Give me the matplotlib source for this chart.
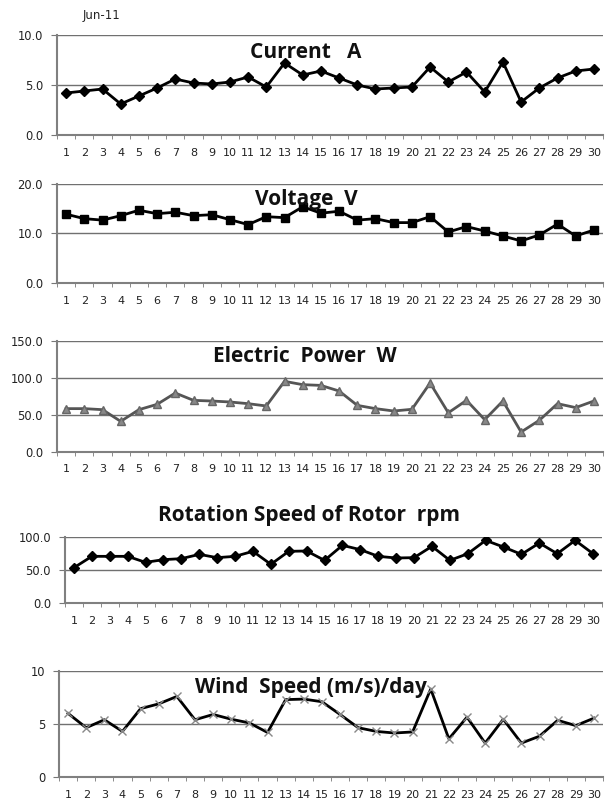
import numpy as np
import matplotlib.pyplot as plt
from matplotlib.ticker import MultipleLocator, FixedLocator

# daten (juni 2011, tageswerte)
tage = list(range(1, 31))

strom = [4.2, 4.4, 4.6, 3.1, 3.9, 4.7, 5.6, 5.2, 5.1, 5.3, 5.8, 4.8, 7.2, 6.0,
         6.4, 5.7, 5.0, 4.6, 4.7, 4.8, 6.8, 5.3, 6.3, 4.3, 7.3, 3.3, 4.7, 5.7, 6.4, 6.6]

spannung = [13.9, 13.0, 12.7, 13.6, 14.7, 14.0, 14.3, 13.6, 13.8, 12.8, 11.8, 13.4, 13.2, 15.4,
            14.1, 14.5, 12.7, 13.0, 12.2, 12.2, 13.4, 10.3, 11.4, 10.5, 9.5, 8.5, 9.7, 11.9, 9.5, 10.7]

leistung = [58.6, 58.6, 57.2, 41.4, 57.2, 64.4, 79.7, 69.8, 68.9, 67.6, 65.3, 62.2, 95.5, 91.0,
            90.0, 82.4, 63.0, 58.6, 55.4, 57.7, 93.2, 53.0, 69.8, 43.7, 68.9, 27.0, 42.8, 65.3, 60.0, 68.9]

drehzahl = [53.5, 70.7, 70.7, 70.7, 61.6, 65.7, 67.2, 73.7, 68.7, 70.7, 78.3, 58.6, 78.3, 78.8,
            64.6, 87.4, 80.8, 70.7, 68.2, 68.7, 85.9, 64.6, 74.7, 94.9, 84.8, 73.7, 90.9, 74.7, 94.9, 74.7]

wind = [6.0, 4.65, 5.4, 4.3, 6.45, 6.9, 7.6, 5.4, 5.9, 5.45, 5.1, 4.2, 7.3, 7.35,
        7.1, 5.9, 4.65, 4.3, 4.15, 4.25, 8.3, 3.6, 5.65, 3.2, 5.45, 3.2, 3.85, 5.35, 4.85, 5.55]

FIG_W, FIG_H = 613, 802
plt.rcParams['font.family'] = ['DejaVu Sans']

fig = plt.figure(figsize=(FIG_W / 100, FIG_H / 100), dpi=100)


def achse(links, oben, rechts, unten):
    # pixelkoordinaten -> figure fraction
    return fig.add_axes([links / FIG_W, 1 - unten / FIG_H,
                         (rechts - links) / FIG_W, (unten - oben) / FIG_H])


def panel(ax, werte, ymax, ystep, fmt, titel, tx, ty, **stil):
    ax.plot(tage, werte, **stil)
    ax.set_xlim(0.5, 30.5)
    ax.set_ylim(0, ymax)
    ax.yaxis.set_major_locator(MultipleLocator(ystep))
    ax.set_yticklabels([fmt.format(v) for v in ax.get_yticks()])
    ax.set_xticks(tage)
    ax.xaxis.set_minor_locator(FixedLocator(np.arange(0.5, 31, 1)))
    ax.tick_params(axis='x', which='major', length=0, labelsize=8, pad=9,
                   labelcolor='#222222')
    ax.tick_params(axis='x', which='minor', length=3, color='#777777', direction='out')
    ax.tick_params(axis='y', length=4, labelsize=8.3, color='#777777', direction='out',
                   pad=6, labelcolor='#222222')
    ax.grid(axis='y', color='#707070', linewidth=1.0)
    ax.set_axisbelow(True)
    for s in ['top', 'right']:
        ax.spines[s].set_visible(False)
    for s in ['left', 'bottom']:
        ax.spines[s].set_color('#808080')
        ax.spines[s].set_linewidth(1.5)
    fig.text(tx / FIG_W, 1 - ty / FIG_H, titel, ha='center', va='center',
             fontsize=15, fontweight='bold', color='#111111', family='Open Sans')


# panel 1: strom
ax1 = achse(57, 35, 603, 135)
panel(ax1, strom, 10, 5, '{:.1f}', 'Current   A', 306, 52,
      color='black', linewidth=2, marker='D', markersize=5)

# panel 2: spannung
ax2 = achse(57, 184, 603, 283)
panel(ax2, spannung, 20, 10, '{:.1f}', 'Voltage  V', 306, 200,
      color='black', linewidth=2, marker='s', markersize=6)

# panel 3: leistung
ax3 = achse(57, 341, 603, 452)
panel(ax3, leistung, 150, 50, '{:.1f}', 'Electric  Power  W', 305, 357,
      color='#555555', linewidth=2, marker='^', markersize=6,
      markerfacecolor='#888888', markeredgecolor='#666666')

# panel 4: drehzahl
ax4 = achse(65, 537, 602, 603)
panel(ax4, drehzahl, 100, 50, '{:.1f}', 'Rotation Speed of Rotor  rpm', 309, 515,
      color='black', linewidth=2, marker='D', markersize=5)

# panel 5: windgeschwindigkeit
ax5 = achse(59, 671, 603, 777)
panel(ax5, wind, 10, 5, '{:.0f}', 'Wind  Speed (m/s)/day', 311, 687,
      color='black', linewidth=2, marker='x', markersize=6,
      markeredgecolor='#888888', markeredgewidth=1.0)

fig.text(101 / FIG_W, 1 - 15 / FIG_H, 'Jun-11', ha='center', va='center', fontsize=8.5,
         color='#222222')

fig.savefig('out.png', dpi=100)
